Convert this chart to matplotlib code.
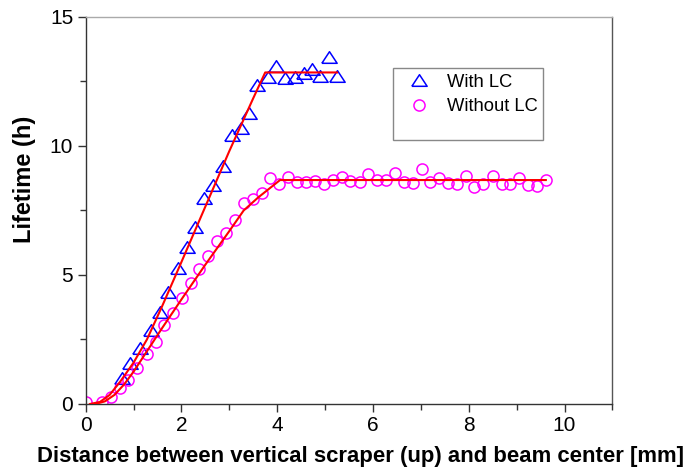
import matplotlib
matplotlib.use("Agg")
import matplotlib.pyplot as plt
from matplotlib.patches import Rectangle
from matplotlib.ticker import MultipleLocator

plt.rcParams['font.family'] = ['Liberation Sans', 'DejaVu Sans']

# measured lifetime with the LC in place
with_lc_x = [0.75, 0.93, 1.14, 1.36, 1.55, 1.73, 1.92, 2.11, 2.28, 2.48, 2.67, 2.86,
             3.05, 3.24, 3.42, 3.57, 3.81, 3.97, 4.16, 4.37, 4.55, 4.72, 4.89, 5.09, 5.25]
with_lc_y = [1.00, 1.58, 2.16, 2.87, 3.58, 4.35, 5.26, 6.10, 6.87, 7.97, 8.49, 9.24,
             10.43, 10.71, 11.27, 12.36, 12.69, 13.11, 12.62, 12.69, 12.82, 12.98, 12.71, 13.44, 12.71]

# measured lifetime without the LC
without_lc_x = [0.00, 0.34, 0.54, 0.72, 0.89, 1.08, 1.28, 1.47, 1.64, 1.83, 2.01, 2.20,
                2.37, 2.56, 2.74, 2.93, 3.12, 3.31, 3.49, 3.68, 3.86, 4.04, 4.23, 4.42,
                4.61, 4.79, 4.98, 5.17, 5.35, 5.53, 5.73, 5.90, 6.09, 6.27, 6.46, 6.65,
                6.83, 7.02, 7.20, 7.38, 7.57, 7.76, 7.94, 8.12, 8.30, 8.50, 8.69, 8.87,
                9.05, 9.24, 9.43, 9.61]
without_lc_y = [0.09, 0.09, 0.28, 0.61, 0.93, 1.38, 1.94, 2.42, 3.06, 3.54, 4.12, 4.70,
                5.22, 5.74, 6.33, 6.62, 7.13, 7.78, 7.93, 8.19, 8.77, 8.52, 8.81, 8.62,
                8.62, 8.64, 8.52, 8.68, 8.81, 8.64, 8.59, 8.91, 8.68, 8.68, 8.94, 8.62,
                8.55, 9.10, 8.62, 8.75, 8.55, 8.52, 8.85, 8.42, 8.52, 8.85, 8.52, 8.52,
                8.75, 8.49, 8.46, 8.68]

# fitted curves
fit_with_x = [0.09, 0.30, 0.50, 0.72, 1.00, 1.28, 1.60, 2.00, 2.50, 3.00, 3.50, 3.75, 5.25]
fit_with_y = [0.00, 0.08, 0.35, 0.86, 1.60, 2.50, 3.80, 5.50, 7.65, 9.80, 11.85, 12.85, 12.85]
fit_without_x = [0.20, 0.40, 0.60, 0.80, 1.00, 1.30, 1.60, 2.00, 2.50, 3.00, 3.30, 3.60, 4.06, 9.61]
fit_without_y = [0.00, 0.10, 0.35, 0.75, 1.25, 2.10, 2.95, 4.05, 5.40, 6.70, 7.50, 8.00, 8.68, 8.68]

# flattened triangle marker
tri = [(-1, -0.76), (1, -0.76), (0, 0.76), (-1, -0.76)]

fig = plt.figure(figsize=(6.85, 4.69), dpi=100)
ax = fig.add_axes([0.125, 0.1386, 0.769, 0.8252])

ax.plot(with_lc_x, with_lc_y, linestyle='none', marker=tri, markersize=11,
        markerfacecolor='none', markeredgecolor='#0000ff', markeredgewidth=1.1,
        label='With LC')
ax.plot(without_lc_x, without_lc_y, linestyle='none', marker='o', markersize=8,
        markerfacecolor='none', markeredgecolor='#ff00ff', markeredgewidth=1.1,
        label='Without LC')
ax.plot(fit_with_x, fit_with_y, color='#ff0000', lw=1.5, zorder=3)
ax.plot(fit_without_x, fit_without_y, color='#ff0000', lw=1.5, zorder=3)

ax.set_xlim(0, 11)
ax.set_ylim(0, 15)
ax.xaxis.set_major_locator(MultipleLocator(2))
ax.xaxis.set_minor_locator(MultipleLocator(1))
ax.yaxis.set_major_locator(MultipleLocator(5))
ax.yaxis.set_minor_locator(MultipleLocator(2.5))
ax.tick_params(which='both', direction='out', top=False, right=False,
               labelsize=15, width=1, color='#333333')
ax.tick_params(which='major', length=5.5)
ax.tick_params(which='minor', length=4.5)
for s in ax.spines.values():
    s.set_linewidth(1)
    s.set_color('#333333')
ax.spines['top'].set_color('#aaaaaa')
ax.spines['right'].set_color('#555555')

ax.set_xlabel('Distance between vertical scraper (up) and beam center [mm]',
              fontsize=15.9, fontweight='bold')
ax.xaxis.set_label_coords(0.5216, -0.109)
ax.set_ylabel('Lifetime (h)', fontsize=17, fontweight='bold')
ax.yaxis.set_label_coords(-0.094, 0.58)

# legend box drawn separately so it can be taller than its two entries
ax.add_patch(Rectangle((393 / 685, 1 - 140 / 469), 150 / 685, 72 / 469,
                       transform=fig.transFigure, facecolor='white',
                       edgecolor='#888888', linewidth=1, zorder=4, clip_on=False))
leg = ax.legend(loc='upper left', bbox_to_anchor=(0.5867, 1 - 70 / 469),
                bbox_transform=fig.transFigure, fontsize=13.2, frameon=False,
                handletextpad=0.74, borderpad=0.2, labelspacing=0.42,
                handlelength=1.5, borderaxespad=0)
leg.set_zorder(5)

fig.savefig('out.png', dpi=100)
